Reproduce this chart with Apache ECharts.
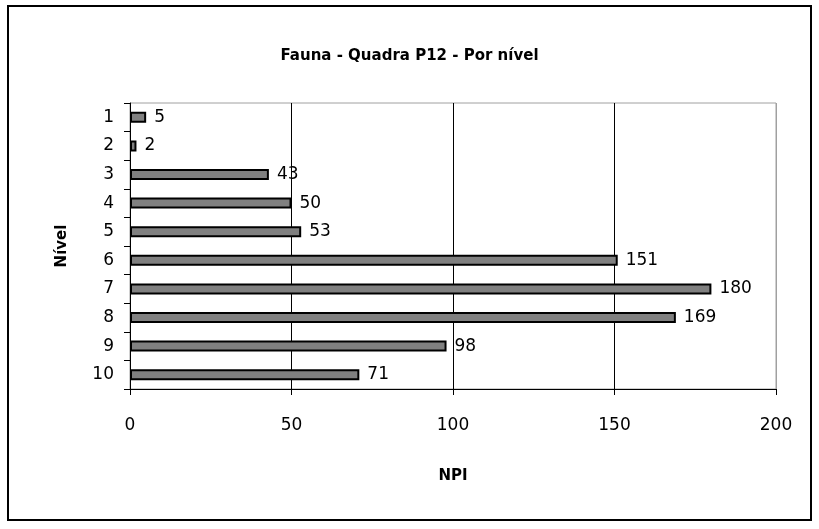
<!DOCTYPE html>
<html><head><meta charset="utf-8">
<script src="https://cdn.jsdelivr.net/npm/echarts@6/dist/echarts.min.js"></script>
<style>html,body{margin:0;padding:0;background:#fff}#c{width:819px;height:529px}</style>
</head><body><div id="c"></div>
<script>
const categories = ['1','2','3','4','5','6','7','8','9','10'];
const npiValues = [5, 2, 43, 50, 53, 151, 180, 169, 98, 71];
const xTicks = [0, 50, 100, 150, 200];
const titleText = 'Fauna - Quadra P12 - Por nível';
const xName = 'NPI';
const yName = 'Nível';

const FONT = '"Comic Sans MS", "DejaVu Sans", sans-serif';
const chart = echarts.init(document.getElementById('c'), null, {renderer: 'canvas'});
chart.setOption({
  backgroundColor: '#fff',
  animation: false,
  graphic: [{type: 'rect', shape: {x: 8, y: 6, width: 803, height: 514}, style: {fill: 'none', stroke: '#000', lineWidth: 2}, z: -1}],
  title: {text: titleText, left: 'center', top: 44, textStyle: {fontFamily: FONT, fontSize: 15, fontWeight: 'bold', color: '#000'}},
  grid: {left: 130, right: 43, top: 103, bottom: 140, show: true, borderColor: '#a0a0a0', borderWidth: 1, backgroundColor: 'transparent'},
  xAxis: {
    type: 'value', min: xTicks[0], max: xTicks[xTicks.length - 1], interval: 50,
    name: xName, nameLocation: 'middle', nameGap: 80,
    nameTextStyle: {fontFamily: FONT, fontSize: 15, fontWeight: 'bold', color: '#000'},
    axisLine: {show: true, lineStyle: {color: '#000', width: 1}},
    axisTick: {show: true, length: 6, lineStyle: {color: '#000'}},
    axisLabel: {margin: 28, fontFamily: FONT, fontSize: 17, color: '#000'},
    splitLine: {show: true, lineStyle: {color: ['#000', '#000', '#000', '#000', '#a0a0a0'], width: 1}}
  },
  yAxis: {
    type: 'category', data: categories, inverse: true,
    name: yName, nameLocation: 'middle', nameGap: 60, nameRotate: 90,
    nameTextStyle: {fontFamily: FONT, fontSize: 15, fontWeight: 'bold', color: '#000'},
    axisLine: {show: true, lineStyle: {color: '#000', width: 1}},
    axisTick: {show: true, length: 6, lineStyle: {color: '#000'}},
    axisLabel: {margin: 16, fontFamily: FONT, fontSize: 17, color: '#000'}
  },
  series: [{
    type: 'bar', data: npiValues, barWidth: 11,
    itemStyle: {color: '#808080', borderColor: '#000', borderWidth: 2},
    label: {show: true, position: 'right', distance: 8, fontFamily: FONT, fontSize: 17, color: '#000'}
  }]
});
</script></body></html>
